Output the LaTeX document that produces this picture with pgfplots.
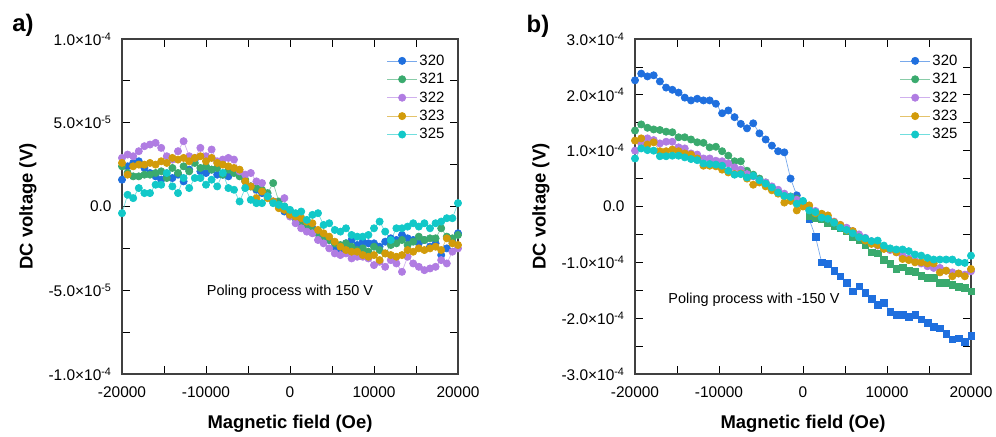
\documentclass[border=0pt]{standalone}
\usepackage{pgfplots}
\pgfplotsset{compat=1.18}
\usepackage{pgfplotstable}
\usepackage{fontspec}
\setmainfont{Liberation Sans}

\definecolor{c320}{RGB}{31,111,222}
\definecolor{c321}{RGB}{58,170,110}
\definecolor{c322}{RGB}{176,124,226}
\definecolor{c323}{RGB}{210,155,10}
\definecolor{c325}{RGB}{18,200,200}

\pgfplotstableread{
x s320 s321 s322 s323 s325
-20000 1.6e-5 2.4e-5 2.9e-5 2.6e-5 -0.4e-5
-19333 2.4e-5 2.0e-5 3.1e-5 1.9e-5 0.7e-5
-18667 2.6e-5 1.8e-5 3.0e-5 2.4e-5 0.5e-5
-18000 2.7e-5 1.8e-5 3.3e-5 2.5e-5 1.1e-5
-17333 2.3e-5 1.9e-5 3.6e-5 2.5e-5 0.8e-5
-16667 2.0e-5 1.9e-5 3.7e-5 2.6e-5 0.8e-5
-16000 1.8e-5 2.0e-5 3.8e-5 2.5e-5 1.3e-5
-15333 1.6e-5 2.1e-5 3.5e-5 2.7e-5 1.3e-5
-14667 1.8e-5 1.7e-5 3.0e-5 2.6e-5 2.0e-5
-14000 1.7e-5 2.3e-5 2.8e-5 2.9e-5 1.2e-5
-13333 1.9e-5 2.0e-5 3.3e-5 2.8e-5 0.8e-5
-12667 1.5e-5 2.4e-5 3.9e-5 2.9e-5 1.7e-5
-12000 2.2e-5 2.1e-5 3.0e-5 2.7e-5 1.1e-5
-11333 2.8e-5 2.6e-5 2.9e-5 2.9e-5 1.7e-5
-10667 2.1e-5 2.3e-5 3.5e-5 3.0e-5 1.7e-5
-10000 2.0e-5 2.4e-5 3.0e-5 2.7e-5 1.3e-5
-9333 2.2e-5 2.2e-5 3.4e-5 2.9e-5 1.6e-5
-8667 1.9e-5 2.3e-5 2.7e-5 2.6e-5 1.2e-5
-8000 1.9e-5 1.9e-5 2.8e-5 2.5e-5 2.0e-5
-7333 1.8e-5 2.2e-5 2.9e-5 2.4e-5 1.1e-5
-6667 2.1e-5 2.0e-5 2.8e-5 2.3e-5 1.0e-5
-6000 1.9e-5 1.8e-5 2.1e-5 2.2e-5 0.3e-5
-5333 1.5e-5 1.6e-5 1.9e-5 1.5e-5 1.1e-5
-4667 1.2e-5 1.2e-5 2.0e-5 1.2e-5 0.4e-5
-4000 1.0e-5 1.1e-5 1.5e-5 0.5e-5 0.2e-5
-3333 0.8e-5 1.0e-5 1.4e-5 0.9e-5 0.2e-5
-2667 0.6e-5 0.8e-5 0.6e-5 0.5e-5 0.6e-5
-2000 0.3e-5 1.4e-5 0.3e-5 0.3e-5 0.2e-5
-1333 0.1e-5 0.3e-5 0.0 -0.1e-5 0.1e-5
-667 -0.3e-5 0.0 0.5e-5 -0.2e-5 0.0
0 -0.5e-5 -0.4e-5 -0.6e-5 -0.5e-5 -0.2e-5
667 -0.7e-5 -0.7e-5 -1.0e-5 -0.6e-5 -0.4e-5
1333 -0.9e-5 -1.1e-5 -1.3e-5 -0.7e-5 -0.3e-5
2000 -1.0e-5 -1.2e-5 -1.5e-5 -0.9e-5 -0.8e-5
2667 -1.3e-5 -1.4e-5 -1.6e-5 -1.0e-5 -0.5e-5
3333 -1.5e-5 -1.6e-5 -2.0e-5 -1.4e-5 -0.4e-5
4000 -1.8e-5 -1.8e-5 -2.2e-5 -1.6e-5 -1.1e-5
4667 -2.0e-5 -2.0e-5 -2.5e-5 -1.8e-5 -1.0e-5
5333 -2.4e-5 -2.2e-5 -2.8e-5 -2.1e-5 -1.4e-5
6000 -2.7e-5 -2.3e-5 -2.9e-5 -2.4e-5 -1.5e-5
6667 -2.2e-5 -2.2e-5 -2.8e-5 -2.6e-5 -1.3e-5
7333 -2.0e-5 -2.4e-5 -3.1e-5 -2.7e-5 -1.7e-5
8000 -2.3e-5 -2.6e-5 -3.0e-5 -2.7e-5 -1.8e-5
8667 -2.1e-5 -2.5e-5 -3.0e-5 -2.9e-5 -1.8e-5
9333 -2.2e-5 -2.7e-5 -3.1e-5 -3.0e-5 -1.7e-5
10000 -2.2e-5 -2.4e-5 -3.5e-5 -2.9e-5 -1.3e-5
10667 -2.4e-5 -2.6e-5 -3.3e-5 -3.2e-5 -0.9e-5
11333 -2.1e-5 -2.8e-5 -3.6e-5 -2.8e-5 -1.5e-5
12000 -1.9e-5 -2.3e-5 -3.2e-5 -2.9e-5 -2.0e-5
12667 -2.0e-5 -2.2e-5 -3.4e-5 -3.0e-5 -1.3e-5
13333 -1.7e-5 -2.0e-5 -3.9e-5 -2.9e-5 -1.3e-5
14000 -1.9e-5 -2.3e-5 -3.0e-5 -2.6e-5 -1.2e-5
14667 -2.0e-5 -2.1e-5 -3.4e-5 -2.7e-5 -1.0e-5
15333 -2.2e-5 -1.8e-5 -3.6e-5 -2.5e-5 -1.2e-5
16000 -2.0e-5 -2.0e-5 -3.8e-5 -2.6e-5 -1.0e-5
16667 -2.4e-5 -1.9e-5 -3.7e-5 -2.5e-5 -1.3e-5
17333 -2.2e-5 -1.9e-5 -3.6e-5 -2.4e-5 -1.0e-5
18000 -2.9e-5 -1.3e-5 -3.2e-5 -2.6e-5 -0.9e-5
18667 -2.5e-5 -1.8e-5 -3.4e-5 -1.9e-5 -0.7e-5
19333 -2.1e-5 -1.9e-5 -2.7e-5 -2.2e-5 -0.7e-5
20000 -1.6e-5 -1.7e-5 -2.5e-5 -2.3e-5 0.2e-5
}\lefttab

\pgfplotstableread{
x s320 s321 s322 s323 s325
-20000 2.26e-4 1.36e-4 1.00e-4 1.18e-4 0.86e-4
-19259 2.38e-4 1.47e-4 1.13e-4 1.22e-4 1.04e-4
-18519 2.33e-4 1.41e-4 1.22e-4 1.11e-4 1.01e-4
-17778 2.35e-4 1.38e-4 1.19e-4 1.15e-4 1.00e-4
-17037 2.24e-4 1.37e-4 1.13e-4 0.99e-4 0.90e-4
-16296 2.13e-4 1.34e-4 1.16e-4 0.99e-4 0.90e-4
-15556 2.09e-4 1.33e-4 1.16e-4 1.02e-4 0.91e-4
-14815 2.04e-4 1.24e-4 1.06e-4 0.99e-4 0.91e-4
-14074 1.95e-4 1.24e-4 1.04e-4 0.95e-4 0.88e-4
-13333 1.90e-4 1.20e-4 0.95e-4 0.93e-4 0.85e-4
-12593 1.93e-4 1.15e-4 0.93e-4 0.86e-4 0.83e-4
-11852 1.90e-4 1.14e-4 0.86e-4 0.73e-4 0.77e-4
-11111 1.90e-4 1.06e-4 0.86e-4 0.73e-4 0.76e-4
-10370 1.84e-4 1.07e-4 0.82e-4 0.72e-4 0.75e-4
-9630 1.67e-4 0.99e-4 0.81e-4 0.66e-4 0.73e-4
-8889 1.72e-4 0.91e-4 0.77e-4 0.61e-4 0.64e-4
-8148 1.60e-4 0.81e-4 0.70e-4 0.58e-4 0.57e-4
-7407 1.48e-4 0.81e-4 0.66e-4 0.59e-4 0.58e-4
-6667 1.40e-4 0.64e-4 0.58e-4 0.50e-4 0.52e-4
-5926 1.49e-4 0.57e-4 0.54e-4 0.39e-4 0.55e-4
-5185 1.31e-4 0.50e-4 0.47e-4 0.43e-4 0.47e-4
-4444 1.20e-4 0.43e-4 0.43e-4 0.36e-4 0.41e-4
-3704 1.09e-4 0.34e-4 0.36e-4 0.29e-4 0.34e-4
-2963 0.99e-4 0.25e-4 0.30e-4 0.23e-4 0.25e-4
-2222 0.97e-4 0.20e-4 0.23e-4 0.07e-4 0.19e-4
-1481 0.50e-4 0.18e-4 0.17e-4 0.10e-4 0.17e-4
-741 0.20e-4 0.14e-4 0.12e-4 -0.07e-4 0.05e-4
0 0.07e-4 0.05e-4 0.06e-4 0.00 0.10e-4
741 -0.23e-4 -0.16e-4 -0.03e-4 0.02e-4 -0.07e-4
1481 -0.54e-4 -0.21e-4 -0.08e-4 -0.12e-4 -0.10e-4
2222 -1.00e-4 -0.23e-4 -0.14e-4 -0.13e-4 -0.20e-4
2963 -1.02e-4 -0.29e-4 -0.20e-4 -0.16e-4 -0.22e-4
3704 -1.15e-4 -0.34e-4 -0.27e-4 -0.28e-4 -0.29e-4
4444 -1.25e-4 -0.38e-4 -0.33e-4 -0.33e-4 -0.38e-4
5185 -1.36e-4 -0.43e-4 -0.38e-4 -0.43e-4 -0.42e-4
5926 -1.52e-4 -0.55e-4 -0.44e-4 -0.44e-4 -0.48e-4
6667 -1.43e-4 -0.60e-4 -0.50e-4 -0.55e-4 -0.55e-4
7407 -1.54e-4 -0.68e-4 -0.56e-4 -0.61e-4 -0.57e-4
8148 -1.65e-4 -0.82e-4 -0.62e-4 -0.67e-4 -0.62e-4
8889 -1.76e-4 -0.84e-4 -0.70e-4 -0.69e-4 -0.61e-4
9630 -1.72e-4 -0.95e-4 -0.75e-4 -0.76e-4 -0.70e-4
10370 -1.88e-4 -1.02e-4 -0.78e-4 -0.76e-4 -0.75e-4
11111 -1.94e-4 -1.11e-4 -0.82e-4 -0.82e-4 -0.77e-4
11852 -1.94e-4 -1.09e-4 -0.88e-4 -0.94e-4 -0.77e-4
12593 -1.97e-4 -1.15e-4 -0.93e-4 -0.96e-4 -0.80e-4
13333 -1.94e-4 -1.17e-4 -0.97e-4 -1.00e-4 -0.86e-4
14074 -2.02e-4 -1.24e-4 -1.02e-4 -1.00e-4 -0.88e-4
14815 -2.08e-4 -1.27e-4 -1.07e-4 -1.02e-4 -0.92e-4
15556 -2.15e-4 -1.28e-4 -1.10e-4 -1.02e-4 -0.95e-4
16296 -2.18e-4 -1.36e-4 -1.10e-4 -1.18e-4 -0.95e-4
17037 -2.28e-4 -1.37e-4 -1.15e-4 -1.15e-4 -0.95e-4
17778 -2.38e-4 -1.40e-4 -1.18e-4 -1.25e-4 -0.95e-4
18519 -2.36e-4 -1.44e-4 -1.20e-4 -1.20e-4 -1.00e-4
19259 -2.42e-4 -1.45e-4 -1.22e-4 -1.25e-4 -1.01e-4
20000 -2.31e-4 -1.52e-4 -1.16e-4 -1.12e-4 -0.88e-4
}\righttab

\pgfplotsset{
  ser/.style={color=#1!60, line width=0.7bp, mark=*, mark size=3.6bp,
    mark options={draw=#1, fill=#1, solid}},
  sq/.style={only marks, mark=square*, mark size=3.3bp,
    mark options={draw=#1, fill=#1, solid}},
  ln/.style={color=#1!60, line width=0.7bp, no marks},
  panel/.style={
    scale only axis, width=336bp, height=335bp,
    xmin=-20000, xmax=20000,
    xtick={-20000,-10000,0,10000,20000},
    xticklabels={-20000,-10000,0,10000,20000},
    scaled ticks=false,
    minor x tick num=1, minor y tick num=1,
    tick align=inside,
    major tick length=8bp, minor tick length=8bp,
    every tick/.style={black, line width=0.8bp},
    axis line style={black!75, line width=1.2bp},
    tick label style={font=\fontsize{15.5}{17}\selectfont},
    xticklabel style={yshift=-9bp},
    yticklabel style={xshift=-7bp},
    xlabel={Magnetic field (Oe)},
    ylabel={DC voltage (V)},
    every axis x label/.style={at={(axis description cs:0.5,-0.15)}, anchor=center,
      font=\bfseries\fontsize{18.5}{20}\selectfont},
    every axis y label/.style={at={(axis description cs:-0.28,0.5)}, anchor=center, rotate=90,
      font=\bfseries\fontsize{18.5}{20}\selectfont},
    legend style={draw=none, fill=none, font=\fontsize{15}{17}\selectfont,
      row sep=2.5bp, at={(0.975,0.965)}, anchor=north east, legend cell align=left},
    legend image code/.code={\draw[mark repeat=2,mark phase=2] plot coordinates {(0bp,0bp) (15bp,0bp) (30bp,0bp)};},
  }
}

\begin{document}
\begin{tikzpicture}
\useasboundingbox (0,0) rectangle (996bp,437bp);
\node[font=\bfseries\fontsize{24}{26}\selectfont] at (23bp,412bp) {a)};
\node[font=\bfseries\fontsize{24}{26}\selectfont] at (538bp,411bp) {b)};

\begin{axis}[panel, at={(122bp,63bp)}, anchor=south west,
  ymin=-1e-4, ymax=1e-4,
  ytick={-1e-4,-5e-5,0,5e-5,1e-4},
  yticklabels={-1.0×10\textsuperscript{-4},-5.0×10\textsuperscript{-5},0.0,5.0×10\textsuperscript{-5},1.0×10\textsuperscript{-4}},
]
\addplot[ser=c320] table[x=x,y=s320]{\lefttab}; \addlegendentry{320}
\addplot[ser=c321] table[x=x,y=s321]{\lefttab}; \addlegendentry{321}
\addplot[ser=c322] table[x=x,y=s322]{\lefttab}; \addlegendentry{322}
\addplot[ser=c323] table[x=x,y=s323]{\lefttab}; \addlegendentry{323}
\addplot[ser=c325] table[x=x,y=s325]{\lefttab}; \addlegendentry{325}
\node[font=\fontsize{14.5}{16}\selectfont] at (axis description cs:0.5,0.245) {Poling process with 150 V};
\end{axis}

\begin{axis}[panel, at={(635bp,63bp)}, anchor=south west,
  ymin=-3e-4, ymax=3e-4,
  ytick={-3e-4,-2e-4,-1e-4,0,1e-4,2e-4,3e-4},
  yticklabels={-3.0×10\textsuperscript{-4},-2.0×10\textsuperscript{-4},-1.0×10\textsuperscript{-4},0.0,1.0×10\textsuperscript{-4},2.0×10\textsuperscript{-4},3.0×10\textsuperscript{-4}},
]
\addplot[ser=c320, skip coords between index={28}{55}] table[x=x,y=s320]{\righttab}; \addlegendentry{320}
\addplot[ln=c320, forget plot, skip coords between index={0}{27}] table[x=x,y=s320]{\righttab};
\addplot[sq=c320, forget plot, skip coords between index={0}{28}] table[x=x,y=s320]{\righttab};
\addplot[ser=c321, skip coords between index={28}{55}] table[x=x,y=s321]{\righttab}; \addlegendentry{321}
\addplot[ln=c321, forget plot, skip coords between index={0}{27}] table[x=x,y=s321]{\righttab};
\addplot[sq=c321, forget plot, skip coords between index={0}{28}] table[x=x,y=s321]{\righttab};
\addplot[ser=c322] table[x=x,y=s322]{\righttab}; \addlegendentry{322}
\addplot[ser=c323] table[x=x,y=s323]{\righttab}; \addlegendentry{323}
\addplot[ser=c325] table[x=x,y=s325]{\righttab}; \addlegendentry{325}
\node[font=\fontsize{14.5}{16}\selectfont] at (axis description cs:0.354,0.221) {Poling process with -150 V};
\end{axis}
\end{tikzpicture}
\end{document}
